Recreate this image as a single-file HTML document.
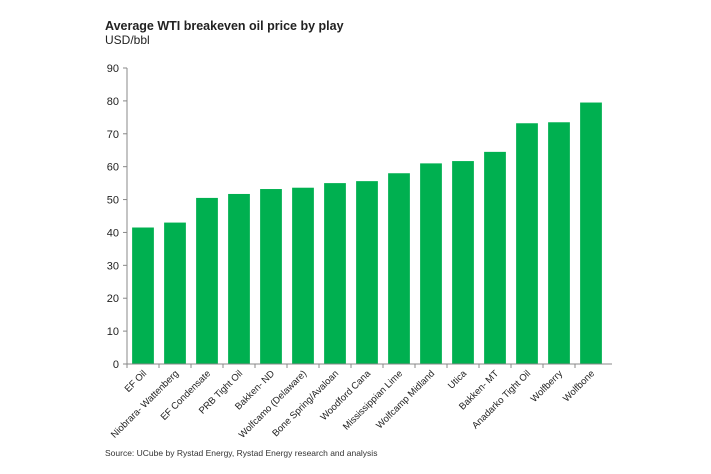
<!DOCTYPE html>
<html><head><meta charset="utf-8"><style>
html,body{margin:0;padding:0;background:#fff;}
svg{display:block;font-family:"Liberation Sans",Arial,sans-serif;}
</style></head><body>
<svg id="chart" width="711" height="474" viewBox="0 0 711 474">
<text x="105" y="30" font-size="12.5" font-weight="bold" fill="#222">Average WTI breakeven oil price by play</text>
<text x="105" y="44" font-size="12" fill="#222">USD/bbl</text>
<text x="105" y="456" font-size="8.5" fill="#333">Source: UCube by Rystad Energy, Rystad Energy research and analysis</text>
<g id="plot"></g>
</svg>
<script>
const categories=["EF Oil","Niobrara- Wattenberg","EF Condensate","PRB Tight Oil","Bakken- ND","Wolfcamo (Delaware)","Bone Spring/Avaloan","Woodford Cana","Mississippian Lime","Wolfcamp Midland","Utica","Bakken- MT","Anadarko Tight Oil","Wolfberry","Wolfbone"];
const values=[41.5,43,50.5,51.7,53.2,53.6,55,55.6,58,61,61.7,64.5,73.2,73.5,79.5];
const yTicks=[0,10,20,30,40,50,60,70,80,90];
const ns="http://www.w3.org/2000/svg";
const g=document.getElementById('plot');
const x0=127,x1=607,y0=364,yTop=68,yMax=90;
const bw=(x1-x0)/categories.length;
const y=v=>y0-(v/yMax)*(y0-yTop);
const xc=i=>x0+bw*(i+0.5);
function mk(t,a){const e=document.createElementNS(ns,t);for(const k in a)e.setAttribute(k,a[k]);g.appendChild(e);return e;}
let ax=mk('line',{x1:x0,y1:y0,x2:x0,y2:yTop,stroke:'#888','stroke-width':1});


yTicks.forEach(t=>{
 let l=mk('line',{x1:x0-4,y1:y(t),x2:x0,y2:y(t),stroke:'#888'});
 
 
 let tx=mk('text',{x:x0-8,y:y(t)+4,'font-size':11,'text-anchor':'end',fill:'#222'});
 tx.textContent=t;
 
 
});
values.forEach((v,i)=>{
 let r=mk('rect',{x:xc(i)-bw*0.34,y:y(v),width:bw*0.68,height:y0-y(v),fill:'#00b050'});
 
 
});
let xa=mk('line',{x1:x0,y1:y0,x2:x1+5,y2:y0,stroke:'#888'});


categories.forEach((c,i)=>{
 let l=mk('line',{x1:x0+bw*i,y1:y0,x2:x0+bw*i,y2:y0+4,stroke:'#888'});
 
 
 const cx=xc(i)+4,cy=y0+10;
 let t=mk('text',{x:cx,y:cy,'font-size':9.5,'text-anchor':'end',fill:'#222',transform:`rotate(-45 ${cx} ${cy})`});
 t.textContent=c;
 
 
});
</script>
</body></html>
